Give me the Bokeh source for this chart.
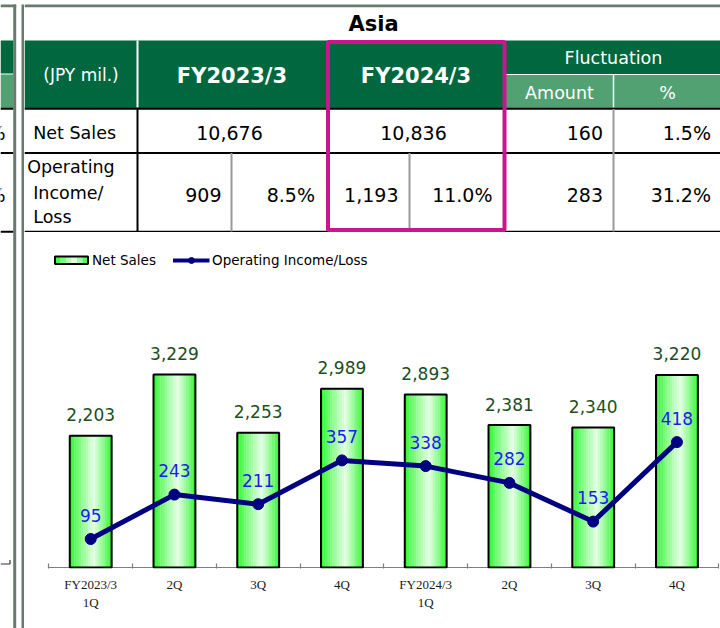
from bokeh.plotting import figure
from bokeh.models import Range1d, FixedTicker, ColumnDataSource
from bokeh.layouts import row, column
from bokeh.transform import dodge
from bokeh.core.properties import value
from bokeh.embed import file_html
from bokeh.resources import INLINE

# ---------------- data ----------------
region = "Asia"
unit_label = "(JPY mil.)"
fy_labels = ["FY2023/3", "FY2024/3"]
fy_net_sales = [10676, 10836]
fy_op_income = [909, 1193]
fy_op_margin = [8.5, 11.0]
fluct_header = "Fluctuation"
fluct_cols = ["Amount", "%"]
fluct_amount = [160, 283]
fluct_pct = [1.5, 31.2]
row_labels = ["Net Sales", "Operating\nIncome/\nLoss"]

quarter_labels = ["FY2023/3\n1Q", "2Q", "3Q", "4Q", "FY2024/3\n1Q", "2Q", "3Q", "4Q"]
q_net_sales = [2203, 3229, 2253, 2989, 2893, 2381, 2340, 3220]
q_op_income = [95, 243, 211, 357, 338, 282, 153, 418]
legend_labels = ["Net Sales", "Operating Income/Loss"]

# ---------------- styles ----------------
DARK = "#00673F"
LIGHT = "#52A173"
FRAME = "#6B7A6E"
MAG = "#C9168C"
FONT = "DejaVu Sans"
NAVY = "#000080"
BLUE_TXT = "#1C1CF0"
GREEN_TXT = "#1E4E1E"


def blank(p):
    p.grid.visible = False
    p.outline_line_color = None
    p.background_fill_color = "white"
    p.border_fill_color = "white"


def txt(p, x, y, s, size, color="black", align="center", baseline="middle",
        style="normal", font=FONT, **kw):
    p.text(x=x, y=y, text=s, text_font=value(font), text_font_size=value(size),
           text_color=color, text_align=align, text_baseline=baseline,
           text_font_style=style, **kw)


# ---------------- left strip (frame lines + edge of the neighbouring panel) ----------------
lf = figure(width=24, height=628, x_range=Range1d(0, 24), y_range=Range1d(628, 0),
            toolbar_location=None, output_backend="svg", min_border=0,
            x_axis_location=None, y_axis_location=None)
blank(lf)
lf.quad(left=[0, 0], right=[13, 13], top=[40, 74], bottom=[73, 107.5],
        fill_color=[DARK, LIGHT], line_color=None)
lf.segment(x0=[0, 0, 0], x1=[13, 13, 13], y0=[108.2, 152.5, 231.2], y1=[108.2, 152.5, 231.2],
           line_color="black", line_width=2)
txt(lf, [5, 5], [132, 194], ["%", "%"], "19px", align="right")
lf.segment(x0=[0, 9.5], x1=[9.5, 9.5], y0=[563.5, 559.5], y1=[563.5, 563.5],
           line_color="#333333", line_width=1.2)
lf.quad(left=[0, 12.7, 21], right=[15.7, 15.7, 24], top=[4, 4, 4], bottom=[6.8, 628, 628],
        fill_color=FRAME, line_color=None)

# ---------------- table ----------------
tf = figure(width=696, height=232, x_range=Range1d(24, 720), y_range=Range1d(232, 0),
            toolbar_location=None, output_backend="svg", min_border=0,
            x_axis_location=None, y_axis_location=None)
blank(tf)
tf.quad(left=[24], right=[720], top=[4], bottom=[6.8], fill_color=FRAME, line_color=None)
tf.quad(left=[24], right=[720], top=[40], bottom=[108], fill_color=DARK, line_color=None)
tf.quad(left=[505], right=[720], top=[74.5], bottom=[108], fill_color=LIGHT, line_color=None)
tf.segment(x0=[137, 613, 505], x1=[137, 613, 720], y0=[40, 74, 74], y1=[107, 107, 74],
           line_color="white", line_width=[2, 1.5, 1])
tf.segment(x0=[24, 24, 24], x1=[720, 720, 720], y0=[108.2, 152.5, 231.2], y1=[108.2, 152.5, 231.2],
           line_color="black", line_width=2)
tf.segment(x0=[137], x1=[137], y0=[108], y1=[231], line_color="black", line_width=2)
tf.segment(x0=[231, 409, 613], x1=[231, 409, 613], y0=[152.5, 152.5, 108.5], y1=[231, 231, 231],
           line_color="#9A9A9A", line_width=2)
tf.quad(left=[327.5], right=[504], top=[41.5], bottom=[229.5], fill_color=None,
        line_color=MAG, line_width=4)

# title + header
txt(tf, [373], [23.5], [region], "21px", style="bold")
txt(tf, [80.5], [74], [unit_label], "17px", color="white")
txt(tf, [231.5, 415.5], [75, 75], fy_labels, "21px", color="white", style="bold")
txt(tf, [613], [57.5], [fluct_header], "17.5px", color="white")
txt(tf, [559, 667], [92, 92], fluct_cols, "17.5px", color="white")

# row labels
txt(tf, [32.7], [132], [row_labels[0]], "17.5px", align="left")
oi_lines = row_labels[1].split("\n")
txt(tf, [26.7, 32.7, 32.7], [166.5, 192, 216.5], oi_lines, "17.5px", align="left")

# values
txt(tf, [229, 413], [132.5, 132.5], [f"{v:,}" for v in fy_net_sales], "19px")
txt(tf, [221, 398], [194, 194], [f"{v:,}" for v in fy_op_income], "19px", align="right")
txt(tf, [314.5, 492], [194, 194], [f"{v:.1f}%" for v in fy_op_margin], "19px", align="right")
txt(tf, [602.5, 602.5], [132.5, 194], [f"{v:,}" for v in fluct_amount], "19px", align="right")
txt(tf, [710.5, 710.5], [132.5, 194], [f"{v:.1f}%" for v in fluct_pct], "19px", align="right")

# ---------------- chart ----------------
idx = list(range(len(q_net_sales)))
src = ColumnDataSource(dict(idx=idx, sales=q_net_sales, oi=q_op_income,
                            sales_lbl=[f"{v:,}" for v in q_net_sales],
                            oi_lbl=[f"{v:,}" for v in q_op_income]))

cf = figure(width=696, height=396, x_range=Range1d(-0.7905, 7.52), y_range=Range1d(-16.7, 5602),
            toolbar_location=None, output_backend="svg",
            min_border_left=0, min_border_right=0, min_border_top=0, min_border_bottom=60,
            y_axis_location=None)
blank(cf)
cf.extra_y_ranges = {"oi": Range1d(-3.33, 1116.7), "py": Range1d(568, 232)}
cf.extra_x_ranges = {"px": Range1d(24, 720)}

# category baseline (axis line) from the first to the last category boundary
cf.segment(x0=[idx[0] - 0.5], x1=[idx[-1] + 0.5], y0=[0], y1=[0], line_color="#7F7F7F",
           line_width=1.2)


def grad_color(t):
    peak = 0.58
    s = 1 - abs(t - peak) / (peak if t < peak else 1 - peak)
    s = max(0.0, s) ** 0.85
    e = (40, 245, 40)
    l = (228, 255, 228)
    c = [int(round(e[i] + (l[i] - e[i]) * s)) for i in range(3)]
    return "#%02x%02x%02x" % tuple(c)


bw = 0.5
N = 18
for k in range(N):
    t = (k + 0.5) / N
    cf.vbar(x=dodge("idx", -bw / 2 + (k + 0.5) * bw / N), top="sales", bottom=0,
            width=bw / N * 1.12, fill_color=grad_color(t), line_color=None, source=src)
cf.vbar(x="idx", top="sales", bottom=0, width=bw, fill_color=None, line_color="black",
        line_width=2, source=src)

cf.text(x="idx", y="sales", text="sales_lbl", source=src, y_offset=-21,
        text_font=value(FONT), text_font_size=value("17px"), text_color=GREEN_TXT,
        text_align="center", text_baseline="middle")

cf.line(x="idx", y="oi", source=src, y_range_name="oi", line_color=NAVY, line_width=5)
cf.scatter(x="idx", y="oi", source=src, y_range_name="oi", size=11, fill_color=NAVY,
           line_color=NAVY)
cf.text(x="idx", y="oi", text="oi_lbl", source=src, y_range_name="oi", y_offset=-24,
        text_font=value(FONT), text_font_size=value("17px"), text_color=BLUE_TXT,
        text_align="center", text_baseline="middle")

# legend (manual)
NL = 6
for k in range(NL):
    x0 = 54.5 + k * (33 / NL)
    cf.quad(left=[x0], right=[x0 + 33 / NL + 0.3], top=[256], bottom=[263.5],
            fill_color=grad_color((k + 0.5) / NL), line_color=None,
            x_range_name="px", y_range_name="py")
cf.quad(left=[54.5], right=[87.5], top=[256], bottom=[263.5], fill_color=None,
        line_color="black", line_width=2, x_range_name="px", y_range_name="py")
cf.segment(x0=[172.5], x1=[209], y0=[260], y1=[260], line_color=NAVY, line_width=4,
           x_range_name="px", y_range_name="py")
cf.scatter(x=[191], y=[260], size=6, fill_color=NAVY, line_color=NAVY,
           x_range_name="px", y_range_name="py")
txt(cf, [91.5, 211.5], [259.5, 259.5], legend_labels, "13.5px", align="left",
    x_range_name="px", y_range_name="py")

ax = cf.xaxis[0]
ax.ticker = FixedTicker(ticks=idx, minor_ticks=[i - 0.5 for i in range(len(idx) + 1)])
ax.major_label_overrides = {i: lab for i, lab in enumerate(quarter_labels)}
ax.major_tick_in = 0
ax.major_tick_out = 0
ax.minor_tick_in = 5
ax.minor_tick_out = 0
ax.axis_line_color = None
ax.minor_tick_line_color = "#7F7F7F"
ax.minor_tick_line_width = 1.2
ax.major_label_text_font = "Liberation Serif"
ax.major_label_text_font_size = "13px"
ax.major_label_text_color = "#1A1A1A"
ax.major_label_standoff = 8

layout = row(lf, column(tf, cf))

with open("out.html", "w") as f:
    f.write(file_html(layout, INLINE))
